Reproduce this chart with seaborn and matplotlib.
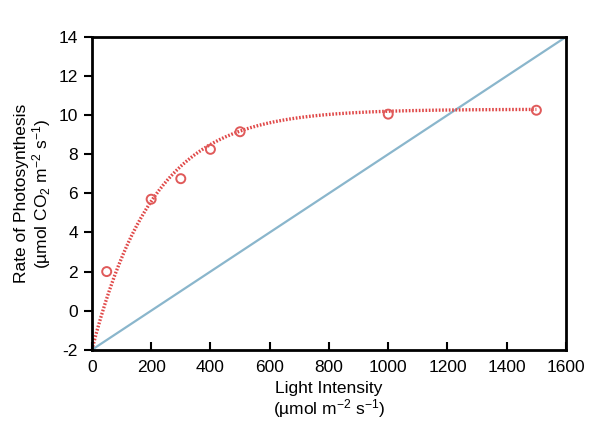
import numpy as np
import pandas as pd
import seaborn as sns
import matplotlib
matplotlib.use("Agg")
import matplotlib.pyplot as plt

# Data
light = [50, 200, 300, 400, 500, 1000, 1500]
rate = [2.0, 5.7, 6.75, 8.25, 9.15, 10.05, 10.25]

# Fitted light-response curve parameters
fit_amax = 12.3      # gross asymptote
fit_k = 0.0048       # initial slope factor
fit_rd = 2.0         # dark respiration

# Reference straight line
line_x = [0, 1600]
line_y = [-2, 14]

xticks = [0, 200, 400, 600, 800, 1000, 1200, 1400, 1600]
yticks = [-2, 0, 2, 4, 6, 8, 10, 12, 14]

sns.set_theme(style="white")
plt.rcParams['font.family'] = ['Liberation Sans', 'DejaVu Sans']
plt.rcParams['mathtext.fontset'] = 'custom'
plt.rcParams['mathtext.rm'] = 'Liberation Sans'
plt.rcParams['mathtext.it'] = 'Liberation Sans:italic'
plt.rcParams['mathtext.bf'] = 'Liberation Sans:bold'
plt.rcParams['axes.unicode_minus'] = False

fig = plt.figure(figsize=(5.89, 4.34), dpi=100)
ax = fig.add_axes([0.156, 0.194, 0.805, 0.721])

red = "#e05a5a"
blue = "#8ab6cc"

df_line = pd.DataFrame({"x": line_x, "y": line_y})
sns.lineplot(data=df_line, x="x", y="y", ax=ax, color=blue, linewidth=1.6)

xs = np.linspace(0, 1500, 300)
ys = fit_amax * (1 - np.exp(-fit_k * xs)) - fit_rd
df_fit = pd.DataFrame({"x": xs, "y": ys})
sns.lineplot(data=df_fit, x="x", y="y", ax=ax, color="#e04848", linewidth=2.4,
             linestyle=(0, (0.5, 0.5)))

df_pts = pd.DataFrame({"x": light, "y": rate})
sns.scatterplot(data=df_pts, x="x", y="y", ax=ax, marker="o", s=42,
                facecolors="none", edgecolor=red, linewidth=1.4, zorder=5)

ax.set_xlim(0, 1600)
ax.set_ylim(-2, 14)
ax.set_xticks(xticks)
ax.set_yticks(yticks)
ax.tick_params(axis='x', direction='in', length=6, width=1.5, labelsize=12.5, pad=7,
               colors='black', labelcolor='black')
ax.tick_params(axis='y', direction='out', length=6, width=1.5, labelsize=12.5, pad=4,
               colors='black', labelcolor='black')
ax.tick_params(left=True, bottom=True)
for s in ax.spines.values():
    s.set_linewidth(2)
    s.set_color('black')

ax.set_xlabel("Light Intensity\n(µmol m$^{-2}$ s$^{-1}$)", fontsize=12.5, labelpad=5,
              linespacing=1.05, color='black')
ax.set_ylabel("Rate of Photosynthesis\n(µmol CO$_2$ m$^{-2}$ s$^{-1}$)", fontsize=12.5,
              labelpad=4, linespacing=1.05, color='black')
ax.grid(False)

fig.savefig("out.png", dpi=100)
